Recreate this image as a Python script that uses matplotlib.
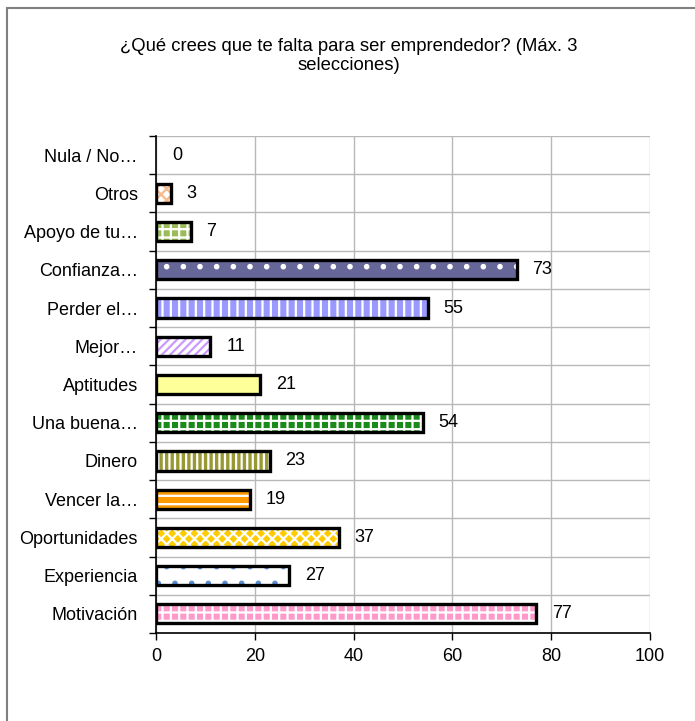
import numpy as np
import matplotlib
matplotlib.use('Agg')
import matplotlib.pyplot as plt
from matplotlib.patches import Rectangle

plt.rcParams['font.family'] = ['Liberation Sans', 'DejaVu Sans']
plt.rcParams['hatch.linewidth'] = 1.6

# ------------------------------------------------------------------
# Data (top to bottom as shown in the chart)
# ------------------------------------------------------------------
categories = ['Nula / No…', 'Otros', 'Apoyo de tu…', 'Confianza…', 'Perder el…',
              'Mejor…', 'Aptitudes', 'Una buena…', 'Dinero', 'Vencer la…',
              'Oportunidades', 'Experiencia', 'Motivación']
values = [0, 3, 7, 73, 55, 11, 21, 54, 23, 19, 37, 27, 77]

# fill colour, hatch colour, hatch pattern
face_colors = ['#FFFFFF', '#FFFFFF', '#9BBB59', '#666699', '#9999FF', '#FFFFFF',
               '#FFFF99', '#1A8A1A', '#999933', '#FF9900', '#FFCC00', '#FFFFFF', '#FF99CC']
hatch_colors = ['#F79646', '#F9B98A', '#FFFFFF', '#FFFFFF', '#FFFFFF', '#CC99FF',
                '#FFFF99', '#FFFFFF', '#FFFFFF', '#FFFFFF', '#FFFFFF', '#5B8FD0', '#FFFFFF']
hatches = ['', 'xxx', '++', '.', '||', '////', '', '++', '|||', '--', 'xxx', '.', '++']

title = '¿Qué crees que te falta para ser emprendedor? (Máx. 3\nselecciones)'

# ------------------------------------------------------------------
# Figure
# ------------------------------------------------------------------
fig = plt.figure(figsize=(6.95, 7.21), dpi=100)
ax = fig.add_axes([156 / 695, 1 - 633 / 721, 494 / 695, 497 / 721])

n = len(categories)
y = np.arange(n)[::-1]

for yi, v, fc, hc, h in zip(y, values, face_colors, hatch_colors, hatches):
    if v == 0:
        continue
    # pattern layer, then black outline on top
    ax.barh(yi, v, height=0.5, color=fc, edgecolor=hc, hatch=h, linewidth=0, zorder=3)
    ax.barh(yi, v, height=0.5, fill=False, edgecolor='black', linewidth=2.4, zorder=4)

for yi, v in zip(y, values):
    ax.annotate(str(v), xy=(v, yi), xytext=(11.5, 0), textcoords='offset points',
                ha='left', va='center', fontsize=13)

ax.set_xlim(0, 100)
ax.set_ylim(-0.5, n - 0.5)
ax.set_xticks(np.arange(0, 101, 20))
ax.set_yticks(y)
ax.set_yticklabels(categories)
ax.set_yticks(np.arange(-0.5, n, 1), minor=True)

ax.tick_params(axis='y', which='major', length=0, pad=13, labelsize=13)
ax.tick_params(axis='y', which='minor', length=5, width=1, direction='out')
ax.tick_params(axis='x', length=5, width=1, direction='out', pad=6, labelsize=13)

ax.grid(True, axis='x', which='major', color='#B8B8B8', linewidth=1, zorder=0)
ax.grid(True, axis='y', which='minor', color='#B8B8B8', linewidth=1, zorder=0)
ax.set_axisbelow(True)

ax.spines['top'].set_visible(False)
ax.spines['right'].set_visible(False)
ax.spines['left'].set_linewidth(1.2)
ax.spines['bottom'].set_linewidth(1.2)

fig.text(349 / 695, 1 - 38 / 721, title, ha='center', va='top', fontsize=13.3,
         linespacing=1.15)

# outer chart frame (only top and left edges fall inside the image)
fig.patches.append(Rectangle((7 / 695, -0.1), 1.2, 1.1 - 8 / 721,
                             transform=fig.transFigure, fill=False,
                             edgecolor='#808080', linewidth=1.5))

fig.savefig('out.png', dpi=100)
